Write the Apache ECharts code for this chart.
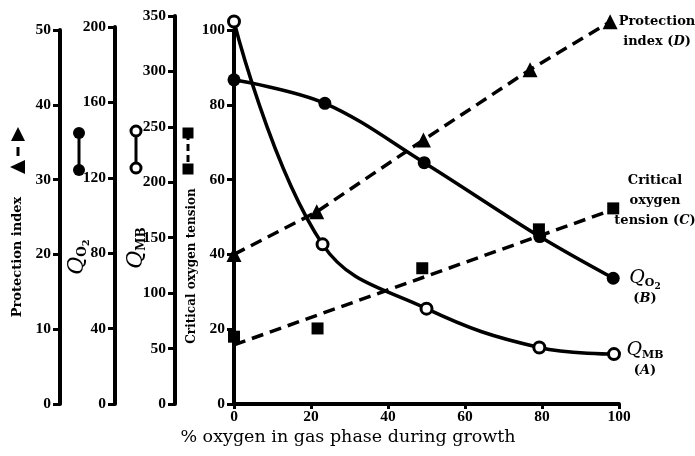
<!DOCTYPE html>
<html><head><meta charset="utf-8">
<script src="https://cdn.jsdelivr.net/npm/echarts@6/dist/echarts.min.js"></script>
<style>html,body{margin:0;padding:0;background:#fff}#c{width:695px;height:456px}</style>
</head><body><div id="c"></div>
<script>
// ---- data (x = % oxygen in gas phase during growth) ----
const mbX = [0, 23, 50, 79.3, 98.7];          // Q_MB (A)
const mbY = [345, 144, 86, 51, 45];
const o2X = [0, 23.6, 49.4, 79.4, 98.5];      // Q_O2 (B)
const o2Y = [172, 159.5, 128, 88.8, 66.7];
const cotX = [0, 21.7, 48.9, 79.2, 98.5];     // Critical oxygen tension (C)
const cotY = [18, 20.2, 36.3, 46.7, 52.3];
const cotFitX = [0, 98.5];                    // fitted dashed line for C
const cotFitY = [15.8, 52];
const piX = [0, 21.5, 49.2, 76.9, 97.7];      // Protection index (D)
const piY = [20, 25.7, 35.3, 44.7, 51.1];
// axis ranges [max, interval]
const xRange = [100, 20];
const cotRange = [100, 20];
const piRange = [50, 10];
const o2Range = [200, 40];
const mbRange = [350, 50];

const pts = (xs, ys) => xs.map((x, i) => [x, ys[i]]);
const SERIF = '"DejaVu Serif", serif';
const NUMF = '"Liberation Serif", serif';

const L = 234, W = 385, B = 52;
function yAx(gi, r, offset) {
  return {
    type: 'value', gridIndex: gi, min: 0, max: r[0], interval: r[1], offset: offset, position: 'left',
    axisLine: { show: true, onZero: false, lineStyle: { color: '#000', width: 4 } },
    axisTick: { show: true, length: 7, lineStyle: { color: '#000', width: 3 } },
    axisLabel: { color: '#000', fontFamily: NUMF, fontWeight: 'bold', fontSize: 15.5, margin: 9 },
    splitLine: { show: false }
  };
}
function xHidden(gi) {
  return { type: 'value', gridIndex: gi, min: 0, max: xRange[0], show: false };
}
const dash = [12, 7];
const qRich = {
  q: { fontFamily: SERIF, fontStyle: 'italic', fontSize: 19, lineHeight: 22 },
  Q: { fontFamily: SERIF, fontStyle: 'italic', fontSize: 22, lineHeight: 24 },
  o: { fontFamily: SERIF, fontWeight: 'bold', fontSize: 11, lineHeight: 11, padding: [11, 0, 0, 0] },
  O: { fontFamily: SERIF, fontWeight: 'bold', fontSize: 12, lineHeight: 12, padding: [12, 0, 0, 0] },
  t: { fontFamily: SERIF, fontWeight: 'bold', fontSize: 9, lineHeight: 9, padding: [17, 0, 0, 0] },
  T: { fontFamily: SERIF, fontWeight: 'bold', fontSize: 10, lineHeight: 10, padding: [19, 0, 0, 0] },
  m: { fontFamily: SERIF, fontWeight: 'bold', fontSize: 11, lineHeight: 11, padding: [11, 0, 0, 0] },
  M: { fontFamily: SERIF, fontWeight: 'bold', fontSize: 12, lineHeight: 12, padding: [12, 0, 0, 0] },
  b: { fontFamily: SERIF, fontWeight: 'bold', fontSize: 13, lineHeight: 20 },
  bi: { fontFamily: SERIF, fontWeight: 'bold', fontStyle: 'italic', fontSize: 13, lineHeight: 20 }
};

const chart = echarts.init(document.getElementById('c'), null, { renderer: 'canvas' });
chart.setOption({
  animation: false,
  backgroundColor: '#fff',
  grid: [
    { left: L, width: W, top: 30, bottom: B },
    { left: L, width: W, top: 30, bottom: B },
    { left: L, width: W, top: 27, bottom: B },
    { left: L, width: W, top: 16, bottom: B }
  ],
  xAxis: [
    {
      type: 'value', gridIndex: 0, min: 0, max: xRange[0], interval: xRange[1],
      axisLine: { show: true, onZero: false, lineStyle: { color: '#000', width: 4 } },
      axisTick: { show: true, length: 5, lineStyle: { color: '#000', width: 3 } },
      axisLabel: { color: '#000', fontFamily: NUMF, fontWeight: 'bold', fontSize: 15.5, margin: 5 },
      splitLine: { show: false }
    },
    xHidden(1), xHidden(2), xHidden(3)
  ],
  yAxis: [
    yAx(0, cotRange, 0),
    yAx(1, piRange, L - 60),
    yAx(2, o2Range, L - 115),
    yAx(3, mbRange, L - 175)
  ],
  series: [
    { type: 'line', xAxisIndex: 0, yAxisIndex: 0, data: pts(cotFitX, cotFitY), symbol: 'none',
      lineStyle: { color: '#000', width: 3.5, type: dash }, clip: false, z: 2 },
    { type: 'scatter', xAxisIndex: 0, yAxisIndex: 0, data: pts(cotX, cotY), symbol: 'rect', symbolSize: 12,
      itemStyle: { color: '#000', opacity: 1 }, clip: false, z: 3 },
    { type: 'line', xAxisIndex: 1, yAxisIndex: 1, data: pts(piX, piY), symbol: 'triangle', symbolSize: 15,
      lineStyle: { color: '#000', width: 3.5, type: dash }, itemStyle: { color: '#000' }, clip: false, z: 3 },
    { type: 'line', xAxisIndex: 2, yAxisIndex: 2, data: pts(o2X, o2Y), smooth: 0.35, symbol: 'circle', symbolSize: 13,
      lineStyle: { color: '#000', width: 3.5 }, itemStyle: { color: '#000' }, clip: false, z: 4 },
    { type: 'line', xAxisIndex: 3, yAxisIndex: 3, data: pts(mbX, mbY), smooth: 0.4, symbol: 'circle', symbolSize: 11,
      lineStyle: { color: '#000', width: 3.5 }, itemStyle: { color: '#fff', borderColor: '#000', borderWidth: 3 }, clip: false, z: 5 }
  ],
  graphic: [
    // left axis titles
    { type: 'text', x: 18, y: 257, rotation: Math.PI / 2,
      style: { text: 'Protection index', fontFamily: SERIF, fontWeight: 'bold', fontSize: 13, fill: '#000', align: 'center', verticalAlign: 'middle' } },
    { type: 'text', x: 77, y: 257, rotation: Math.PI / 2,
      style: { text: '{Q|Q}{O|O}{T|2}', rich: qRich, fill: '#000', align: 'center', verticalAlign: 'middle' } },
    { type: 'text', x: 136, y: 248, rotation: Math.PI / 2,
      style: { text: '{Q|Q}{M|MB}', rich: qRich, fill: '#000', align: 'center', verticalAlign: 'middle' } },
    { type: 'text', x: 192, y: 266, rotation: Math.PI / 2,
      style: { text: 'Critical oxygen tension', fontFamily: SERIF, fontWeight: 'bold', fontSize: 12, fill: '#000', align: 'center', verticalAlign: 'middle' } },
    // legend keys on the left
    { type: 'polygon', shape: { points: [[18, 127], [25, 141], [11, 141]] }, style: { fill: '#000' } },
    { type: 'line', shape: { x1: 18, y1: 147, x2: 18, y2: 156 }, style: { stroke: '#000', lineWidth: 3 } },
    { type: 'polygon', shape: { points: [[10, 167], [25, 160], [25, 174]] }, style: { fill: '#000' } },
    { type: 'line', shape: { x1: 79, y1: 133, x2: 79, y2: 170 }, style: { stroke: '#000', lineWidth: 3 } },
    { type: 'circle', shape: { cx: 79, cy: 133, r: 6 }, style: { fill: '#000' } },
    { type: 'circle', shape: { cx: 79, cy: 170, r: 6 }, style: { fill: '#000' } },
    { type: 'line', shape: { x1: 136, y1: 131, x2: 136, y2: 168 }, style: { stroke: '#000', lineWidth: 3 } },
    { type: 'circle', shape: { cx: 136, cy: 131, r: 5 }, style: { fill: '#fff', stroke: '#000', lineWidth: 3 } },
    { type: 'circle', shape: { cx: 136, cy: 168, r: 5 }, style: { fill: '#fff', stroke: '#000', lineWidth: 3 } },
    { type: 'line', shape: { x1: 188, y1: 133, x2: 188, y2: 169 }, style: { stroke: '#000', lineWidth: 3, lineDash: [7, 4] } },
    { type: 'rect', shape: { x: 182.5, y: 127.5, width: 11, height: 11 }, style: { fill: '#000' } },
    { type: 'rect', shape: { x: 182.5, y: 163.5, width: 11, height: 11 }, style: { fill: '#000' } },
    // right-hand series labels
    { type: 'text', x: 657, y: 32,
      style: { text: '{b|Protection}\n{b|index (}{bi|D}{b|)}', rich: qRich, fill: '#000', align: 'center', verticalAlign: 'middle' } },
    { type: 'text', x: 655, y: 201,
      style: { text: '{b|Critical}\n{b|oxygen}\n{b|tension (}{bi|C}{b|)}', rich: qRich, fill: '#000', align: 'center', verticalAlign: 'middle' } },
    { type: 'text', x: 645, y: 288,
      style: { text: '{q|Q}{o|O}{t|2}\n{b|(}{bi|B}{b|)}', rich: qRich, fill: '#000', align: 'center', verticalAlign: 'middle' } },
    { type: 'text', x: 645, y: 360,
      style: { text: '{q|Q}{m|MB}\n{b|(}{bi|A}{b|)}', rich: qRich, fill: '#000', align: 'center', verticalAlign: 'middle' } },
    // x-axis title
    { type: 'text', x: 348, y: 437,
      style: { text: '% oxygen in gas phase during growth', fontFamily: SERIF, fontSize: 17.5, fill: '#000', align: 'center', verticalAlign: 'middle' } }
  ]
});
</script>
</body></html>
